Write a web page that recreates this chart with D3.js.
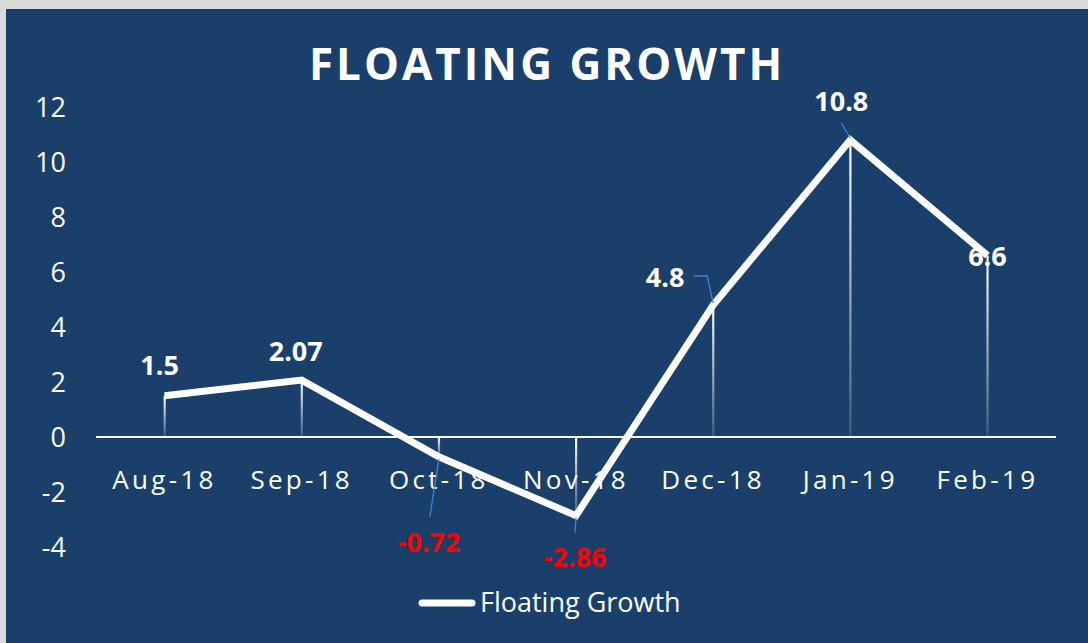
<!DOCTYPE html>
<meta charset="utf-8">
<script src="https://d3js.org/d3.v7.min.js"></script>
<style>
  body { margin: 0; background: #d9d9d9; }
  text { font-family: "Open Sans", sans-serif; }
</style>
<div id="chart"></div>
<script>
  // data
  var months = ["Aug-18", "Sep-18", "Oct-18", "Nov-18", "Dec-18", "Jan-19", "Feb-19"];
  var growth = [1.5, 2.07, -0.72, -2.86, 4.8, 10.8, 6.6];
  var yTicks = [-4, -2, 0, 2, 4, 6, 8, 10, 12];

  var W = 1088, H = 643;
  var svg = d3.select("#chart").append("svg")
    .attr("width", W).attr("height", H);

  // panel background
  svg.append("rect").attr("x", 6).attr("y", 9)
    .attr("width", W - 6).attr("height", H - 9)
    .attr("fill", "#1a3f6b");

  var defs = svg.append("defs");
  var grad = defs.append("linearGradient").attr("id", "drop")
    .attr("x1", 0).attr("y1", 0).attr("x2", 0).attr("y2", 1);
  grad.append("stop").attr("offset", "0%").attr("stop-color", "#ffffff").attr("stop-opacity", 1);
  grad.append("stop").attr("offset", "100%").attr("stop-color", "#ffffff").attr("stop-opacity", 0.15);

  var x = d3.scaleBand().domain(months).range([96, 1056]);
  var y = d3.scaleLinear().domain([-4, 12]).range([547, 107]);
  var cx = function (d, i) { return x(months[i]) + x.bandwidth() / 2; };

  // title
  svg.append("text")
    .attr("x", 547).attr("y", 80)
    .attr("text-anchor", "middle")
    .attr("fill", "#fff")
    .style("font-size", "44px").style("font-weight", "bold")
    .style("letter-spacing", "3px")
    .text("FLOATING GROWTH");

  // y axis labels
  svg.append("g").selectAll("text")
    .data(yTicks).enter().append("text")
    .attr("x", 66).attr("y", function (d) { return y(d); })
    .attr("dy", "0.36em")
    .attr("text-anchor", "end")
    .attr("fill", "#fff")
    .style("font-size", "27px")
    .text(function (d) { return d; });

  // drop lines
  svg.append("g").selectAll("rect")
    .data(growth).enter().append("rect")
    .attr("x", function (d, i) { return cx(d, i) - 1; })
    .attr("y", function (d) { return Math.min(y(d), y(0)); })
    .attr("width", 2.2)
    .attr("height", function (d) { return Math.abs(y(d) - y(0)); })
    .attr("fill", "url(#drop)");

  // zero line
  svg.append("line")
    .attr("x1", 96).attr("x2", 1056)
    .attr("y1", y(0)).attr("y2", y(0))
    .attr("stroke", "#fff").attr("stroke-width", 2);

  // x labels
  svg.append("g").selectAll("text")
    .data(months).enter().append("text")
    .attr("x", function (d) { return x(d) + x.bandwidth() / 2; })
    .attr("y", 489)
    .attr("text-anchor", "middle")
    .attr("fill", "#fff")
    .style("font-size", "26px")
    .style("letter-spacing", "3.3px")
    .text(function (d) { return d; });

  // line
  svg.append("path")
    .datum(growth)
    .attr("fill", "none")
    .attr("stroke", "#fff")
    .attr("stroke-width", 7)
    .attr("stroke-linejoin", "miter")
    .attr("d", d3.line().x(cx).y(function (d) { return y(d); }));

  // leader lines (label offsets in px from point)
  var labelDx = [-5, -6, -10, -1, -48, -9, 0];
  var labelDy = [-30, -29, 85, 42, -28, -39, 1];
  var leaders = [null, null,
    [[0, 2], [-9, 60]],
    [[0, 2], [-1, 17]],
    [[0, -2], [-6, -29], [-19, -29]],
    [[0, -2], [-9, -17]],
    null];
  var leaderData = growth.map(function (d, i) { return { v: d, i: i, pts: leaders[i] }; })
    .filter(function (d) { return d.pts; });
  svg.append("g").selectAll("path")
    .data(leaderData).enter()
    .append("path")
    .attr("fill", "none")
    .attr("stroke", "#3d86dc")
    .attr("stroke-width", 1.3)
    .attr("d", function (d) {
      var px = cx(d.v, d.i), py = y(d.v);
      return d3.line()(d.pts.map(function (p) { return [px + p[0], py + p[1]]; }));
    });

  // data labels
  svg.append("g").selectAll("text")
    .data(growth).enter().append("text")
    .attr("x", function (d, i) { return cx(d, i) + labelDx[i]; })
    .attr("y", function (d, i) { return y(d) + labelDy[i]; })
    .attr("dy", "0.36em")
    .attr("text-anchor", "middle")
    .attr("fill", function (d) { return d < 0 ? "#ff0000" : "#fff"; })
    .style("font-size", "27px").style("font-weight", "bold")
    .text(function (d) { return d; });

  // legend
  svg.append("line")
    .attr("x1", 422).attr("x2", 472)
    .attr("y1", 603).attr("y2", 603)
    .attr("stroke", "#fff").attr("stroke-width", 7)
    .attr("stroke-linecap", "round");
  svg.append("text")
    .attr("x", 480).attr("y", 612)
    .attr("fill", "#fff")
    .style("font-size", "27px")
    .text("Floating Growth");
</script>
